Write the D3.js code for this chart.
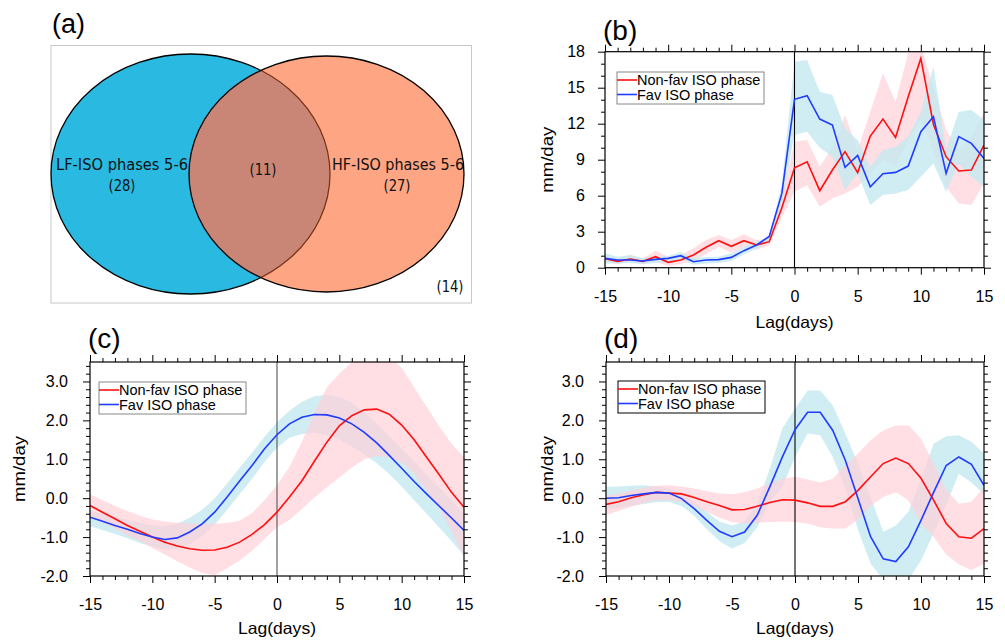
<!DOCTYPE html>
<html><head><meta charset="utf-8">
<script src="https://cdn.jsdelivr.net/npm/d3@7"></script>
<style>html,body{margin:0;padding:0;background:#fff}svg{display:block}</style>
</head><body>
<svg id="chart" width="1005" height="642"></svg>
<script>
// ---------------- data ----------------
const lagDays = [-15,-14,-13,-12,-11,-10,-9,-8,-7,-6,-5,-4,-3,-2,-1,0,1,2,3,4,5,6,7,8,9,10,11,12,13,14,15];
const xTickValues = [-15,-10,-5,0,5,10,15];
const seriesNames = ["Non-fav ISO phase","Fav ISO phase"];

// Venn (a)
const vennLabels = ["LF-ISO phases 5-6","HF-ISO phases 5-6"];
const vennCounts = [28, 27, 11, 14]; // LF only, HF only, both, neither

// Panel (b)
const bTicksY = [0,3,6,9,12,15,18];
const b_red   = [0.75,0.53,0.72,0.53,0.92,0.45,0.64,1.06,1.70,2.25,1.78,2.25,1.89,2.17,5.0,8.33,8.83,6.42,8.14,9.67,7.92,10.97,12.39,10.86,14.25,17.44,11.94,9.25,8.06,8.14,10.22];
const b_redHi = [0.98,0.78,1.06,0.78,1.42,0.92,1.06,1.61,2.31,2.73,2.31,2.78,2.31,2.44,5.92,10.5,10.64,8.42,10.0,12.7,9.8,13.0,16.2,13.8,17.9,18.5,15.0,11.5,9.8,10.9,12.9];
const b_redLo = [0.5,0.31,0.5,0.31,0.5,0.14,0.31,0.58,1.14,1.75,1.25,1.75,1.47,1.89,4.2,6.33,6.89,5.08,5.78,6.19,6.75,7.86,8.97,8.42,10.64,12.31,9.81,6.75,5.36,5.22,7.03];
const b_blue   = [0.78,0.64,0.64,0.56,0.69,0.78,1.0,0.5,0.64,0.67,0.86,1.42,1.89,2.61,6.19,14.03,14.33,12.39,11.89,8.36,9.36,6.75,7.83,7.94,8.47,11.33,12.58,7.86,10.92,10.36,9.11];
const b_blueHi = [1.2,0.92,1.06,0.78,0.92,0.97,1.3,0.8,0.9,0.92,1.2,1.75,2.16,2.58,7.03,17.17,17.31,14.67,14.39,11.61,10.64,8.42,9.81,10.08,10.92,13.0,16.75,9.81,13.0,13.14,12.31];
const b_blueLo = [0.36,0.36,0.4,0.3,0.4,0.5,0.7,0.25,0.36,0.4,0.55,1.1,1.6,2.16,5.42,11.06,11.33,10.0,9.25,6.5,7.86,5.22,6.06,6.19,6.47,7.58,8.69,6.33,8.69,7.58,6.75];

// Panel (c)
const cdTicksY = [-2,-1,0,1,2,3];
const c_red   = [-0.19,-0.36,-0.53,-0.70,-0.85,-1.0,-1.13,-1.23,-1.30,-1.34,-1.33,-1.26,-1.13,-0.93,-0.68,-0.36,0.03,0.45,0.95,1.44,1.86,2.12,2.27,2.29,2.16,1.88,1.5,1.05,0.61,0.15,-0.23];
const c_redHi = [0.11,-0.05,-0.2,-0.33,-0.45,-0.55,-0.6,-0.63,-0.65,-0.66,-0.66,-0.64,-0.58,-0.38,-0.05,0.33,0.8,1.45,2.2,2.85,3.2,3.5,3.7,3.75,3.65,3.35,2.85,2.35,1.85,1.4,1.05];
const c_redLo = [-0.49,-0.62,-0.78,-0.95,-1.1,-1.28,-1.45,-1.62,-1.78,-1.92,-1.98,-1.8,-1.6,-1.35,-1.05,-0.74,-0.56,-0.28,0.02,0.28,0.53,0.79,1.0,1.09,1.05,0.92,0.62,0.19,-0.24,-0.83,-1.51];
const c_blue   = [-0.49,-0.59,-0.70,-0.80,-0.91,-1.0,-1.06,-1.02,-0.87,-0.66,-0.36,0.03,0.44,0.84,1.27,1.63,1.91,2.08,2.15,2.14,2.06,1.91,1.69,1.42,1.1,0.77,0.43,0.11,-0.2,-0.51,-0.83];
const c_blueHi = [-0.32,-0.4,-0.48,-0.56,-0.64,-0.7,-0.72,-0.65,-0.5,-0.3,0.0,0.38,0.78,1.17,1.58,1.95,2.25,2.48,2.62,2.66,2.6,2.45,2.2,1.92,1.6,1.27,0.95,0.6,0.28,-0.05,-0.42];
const c_blueLo = [-0.72,-0.82,-0.92,-1.03,-1.15,-1.25,-1.32,-1.3,-1.18,-0.98,-0.68,-0.3,0.1,0.5,0.93,1.3,1.55,1.65,1.68,1.62,1.5,1.33,1.12,0.9,0.62,0.3,-0.05,-0.4,-0.75,-1.1,-1.47];

// Panel (d)
const d_red   = [-0.16,-0.09,0.01,0.09,0.15,0.13,0.11,0.02,-0.09,-0.19,-0.30,-0.29,-0.21,-0.11,-0.04,-0.05,-0.12,-0.21,-0.21,-0.09,0.2,0.55,0.89,1.03,0.89,0.51,-0.05,-0.65,-0.99,-1.03,-0.78];
const d_redHi = [0.07,0.12,0.2,0.27,0.32,0.33,0.3,0.25,0.18,0.12,0.1,0.15,0.25,0.38,0.5,0.55,0.48,0.4,0.5,0.85,1.15,1.49,1.74,1.87,1.87,1.53,0.89,0.21,-0.14,-0.1,0.29];
const d_redLo = [-0.43,-0.33,-0.22,-0.12,-0.05,-0.05,-0.1,-0.2,-0.35,-0.5,-0.61,-0.65,-0.63,-0.61,-0.6,-0.61,-0.65,-0.75,-0.78,-0.78,-0.55,-0.2,0.03,0.15,-0.05,-0.65,-0.99,-1.45,-1.7,-1.85,-1.68];
const d_blue   = [0.0,0.01,0.07,0.11,0.15,0.13,-0.01,-0.27,-0.57,-0.85,-0.99,-0.87,-0.44,0.29,1.06,1.76,2.21,2.21,1.74,0.97,-0.01,-0.99,-1.56,-1.63,-1.25,-0.57,0.15,0.84,1.06,0.87,0.33];
const d_blueHi = [0.29,0.3,0.32,0.33,0.3,0.25,0.12,-0.1,-0.35,-0.6,-0.7,-0.6,-0.15,0.75,1.8,2.3,2.77,2.77,2.38,1.66,0.89,0.03,-0.86,-0.7,-0.35,0.5,1.4,1.59,1.62,1.45,1.15];
const d_blueLo = [-0.27,-0.25,-0.2,-0.15,-0.1,-0.1,-0.2,-0.45,-0.8,-1.1,-1.29,-1.15,-0.75,-0.1,0.29,1.06,1.66,1.62,1.06,0.25,-0.82,-1.68,-2.1,-2.1,-2.1,-1.6,-0.9,-0.18,0.63,0.4,0.1];

// ---------------- drawing ----------------
const svg = d3.select("#chart");
svg.append("rect").attr("width",1005).attr("height",642).attr("fill","#fff");
const defs = svg.append("defs");
const FONT = "'Liberation Sans', Arial, Helvetica, sans-serif";

// ---- Panel (a): Venn ----
(function(){
  const g = svg.append("g");
  g.append("rect").attr("x",51).attr("y",45.5).attr("width",420.5).attr("height",257.5)
    .attr("fill","none").attr("stroke","#c8c8c8").attr("stroke-width",1);
  const L = {cx:190.5, cy:174, rx:139.5, ry:120};
  const R = {cx:326.5, cy:174, rx:137.5, ry:118};
  defs.append("clipPath").attr("id","clipL").append("ellipse")
    .attr("cx",L.cx).attr("cy",L.cy).attr("rx",L.rx).attr("ry",L.ry);
  defs.append("clipPath").attr("id","clipR").append("ellipse")
    .attr("cx",R.cx).attr("cy",R.cy).attr("rx",R.rx).attr("ry",R.ry);
  const ell = (e) => g.append("ellipse").attr("cx",e.cx).attr("cy",e.cy).attr("rx",e.rx).attr("ry",e.ry);
  ell(L).attr("fill","#2abae1").attr("stroke","#000").attr("stroke-width",1.3);
  ell(R).attr("fill","#fea584").attr("stroke","none");
  ell(R).attr("fill","#c98676").attr("clip-path","url(#clipL)");
  ell(L).attr("fill","none").attr("stroke","#7a3416").attr("stroke-width",1.3).attr("clip-path","url(#clipR)");
  ell(R).attr("fill","none").attr("stroke","#000").attr("stroke-width",1.3);
  const vf = "'DejaVu Sans', sans-serif";
  const t = (x,y,s,len) => g.append("text").attr("x",x).attr("y",y).attr("text-anchor","middle")
      .attr("font-family",vf).attr("font-size",16).attr("fill","#111")
      .attr("textLength",len).attr("lengthAdjust","spacingAndGlyphs").text(s);
  t(122,170,vennLabels[0],132);
  t(122,191,"("+vennCounts[0]+")",27);
  t(263,175,"("+vennCounts[2]+")",27);
  t(398,170,vennLabels[1],132);
  t(397,191,"("+vennCounts[1]+")",27);
  t(450,292,"("+vennCounts[3]+")",27);
  svg.append("text").attr("x",52).attr("y",33).attr("font-family",FONT).attr("font-size",27).text("(a)");
})();

// ---- line panels ----
function linePanel(opt){
  const {left,right,top,bottom,yDomain,yMajor,yMinorStep,fmt,red,redHi,redLo,blue,blueHi,blueLo,
         pinkOnTop,zeroColor,legend,label,yTitleX,yLabelPad} = opt;
  const x = d3.scaleLinear().domain([-15,15]).range([left,right]);
  const y = d3.scaleLinear().domain(yDomain).range([bottom,top]);
  const g = svg.append("g");
  const cid = "clip"+label;
  defs.append("clipPath").attr("id",cid).append("rect")
    .attr("x",left).attr("y",top).attr("width",right-left).attr("height",bottom-top);
  const plot = g.append("g").attr("clip-path",`url(#${cid})`);
  const area = (hi,lo) => d3.area().x((d,i)=>x(lagDays[i])).y0((d,i)=>y(lo[i])).y1((d,i)=>y(hi[i]))(lagDays);
  const line = (v) => d3.line().x((d,i)=>x(lagDays[i])).y((d,i)=>y(v[i]))(lagDays);
  const drawBlueBand = () => plot.append("path").attr("d",area(blueHi,blueLo)).attr("fill","#c4e8f0").attr("opacity",0.8);
  const drawPinkBand = () => plot.append("path").attr("d",area(redHi,redLo)).attr("fill","#ffd0d8").attr("opacity",0.7);
  if (pinkOnTop){ drawBlueBand(); drawPinkBand(); } else { drawPinkBand(); drawBlueBand(); }
  plot.append("line").attr("x1",x(0)).attr("x2",x(0)).attr("y1",top).attr("y2",bottom)
    .attr("stroke",zeroColor).attr("stroke-width",1.1);
  plot.append("path").attr("d",line(red)).attr("fill","none").attr("stroke","#ff1010").attr("stroke-width",1.6);
  plot.append("path").attr("d",line(blue)).attr("fill","none").attr("stroke","#1f3cff").attr("stroke-width",1.6);

  // axes
  const xMinor = lagDays.filter(d=>xTickValues.indexOf(d)<0);
  const yMinor = [];
  for (let v=yDomain[0]; v<=yDomain[1]+1e-9; v+=yMinorStep){ const r=Math.round(v*100)/100; if (!yMajor.some(m=>Math.abs(m-r)<1e-6)) yMinor.push(r); }
  const style = sel => { sel.select(".domain").remove(); sel.attr("font-family",FONT).attr("font-size",16);
    sel.selectAll("line").attr("stroke","#000"); sel.selectAll("text").attr("fill","#000"); };
  g.append("g").attr("transform",`translate(0,${bottom})`).call(d3.axisBottom(x).tickValues(xTickValues).tickSize(7).tickPadding(16).tickFormat(d=>String(d))).call(style);
  g.append("g").attr("transform",`translate(0,${bottom})`).call(d3.axisBottom(x).tickValues(xMinor).tickSize(4).tickFormat("")).call(style);
  g.append("g").attr("transform",`translate(0,${top})`).call(d3.axisTop(x).tickValues(xTickValues).tickSize(7).tickFormat("")).call(style);
  g.append("g").attr("transform",`translate(0,${top})`).call(d3.axisTop(x).tickValues(xMinor).tickSize(4).tickFormat("")).call(style);
  g.append("g").attr("transform",`translate(${left},0)`).call(d3.axisLeft(y).tickValues(yMajor).tickSize(7).tickPadding(yLabelPad).tickFormat(fmt)).call(style);
  g.append("g").attr("transform",`translate(${left},0)`).call(d3.axisLeft(y).tickValues(yMinor).tickSize(4).tickFormat("")).call(style);
  g.append("g").attr("transform",`translate(${right},0)`).call(d3.axisRight(y).tickValues(yMajor).tickSize(7).tickFormat("")).call(style);
  g.append("g").attr("transform",`translate(${right},0)`).call(d3.axisRight(y).tickValues(yMinor).tickSize(4).tickFormat("")).call(style);
  g.append("rect").attr("x",left).attr("y",top).attr("width",right-left).attr("height",bottom-top)
    .attr("fill","none").attr("stroke","#000").attr("stroke-width",1.2);

  // titles
  g.append("text").attr("x",(left+right)/2).attr("y",bottom+opt.xTitleDy).attr("text-anchor","middle")
    .attr("font-family",FONT).attr("font-size",16.5).attr("textLength",78).attr("lengthAdjust","spacingAndGlyphs").text("Lag(days)");
  g.append("text").attr("transform",`translate(${yTitleX},${(top+bottom)/2}) rotate(-90)`).attr("text-anchor","middle")
    .attr("font-family",FONT).attr("font-size",16.5).attr("textLength",66).attr("lengthAdjust","spacingAndGlyphs").text("mm/day");
  svg.append("text").attr("x",opt.labelX).attr("y",opt.labelY).attr("font-family",FONT).attr("font-size",28).text("("+label+")");

  // legend
  const lg = g.append("g");
  lg.append("rect").attr("x",legend.x).attr("y",legend.y).attr("width",147).attr("height",32)
    .attr("fill","#fff").attr("stroke",legend.stroke).attr("stroke-width",1);
  const cols = ["#ff1010","#1f3cff"];
  seriesNames.forEach((s,i)=>{
    const cy = legend.y + 8 + i*14.5;
    lg.append("line").attr("x1",legend.x).attr("x2",legend.x+20).attr("y1",cy).attr("y2",cy).attr("stroke",cols[i]).attr("stroke-width",1.6);
    lg.append("text").attr("x",legend.x+20).attr("y",cy+5).attr("font-family",FONT).attr("font-size",14.5).text(s);
  });
}

linePanel({label:"b",left:605,right:984,top:51.7,bottom:267.7,yDomain:[0,18],yMajor:bTicksY,yMinorStep:1,
  fmt:d=>String(d),red:b_red,redHi:b_redHi,redLo:b_redLo,blue:b_blue,blueHi:b_blueHi,blueLo:b_blueLo,
  pinkOnTop:false,zeroColor:"#000",legend:{x:617,y:72,stroke:"#888"},yTitleX:553,yLabelPad:13,
  xTitleDy:60,labelX:603,labelY:40});
linePanel({label:"c",left:90,right:464,top:362,bottom:576,yDomain:[-2,3.5],yMajor:cdTicksY,yMinorStep:0.2,
  fmt:d=>d.toFixed(1),red:c_red,redHi:c_redHi,redLo:c_redLo,blue:c_blue,blueHi:c_blueHi,blueLo:c_blueLo,
  pinkOnTop:true,zeroColor:"#555",legend:{x:99,y:382,stroke:"#888"},yTitleX:25,yLabelPad:15,
  xTitleDy:58,labelX:88,labelY:348});
linePanel({label:"d",left:606,right:984,top:362,bottom:576,yDomain:[-2,3.5],yMajor:cdTicksY,yMinorStep:0.2,
  fmt:d=>d.toFixed(1),red:d_red,redHi:d_redHi,redLo:d_redLo,blue:d_blue,blueHi:d_blueHi,blueLo:d_blueLo,
  pinkOnTop:true,zeroColor:"#000",legend:{x:618,y:381,stroke:"#000"},yTitleX:553,yLabelPad:15,
  xTitleDy:58,labelX:604,labelY:348});
</script>
</body></html>
